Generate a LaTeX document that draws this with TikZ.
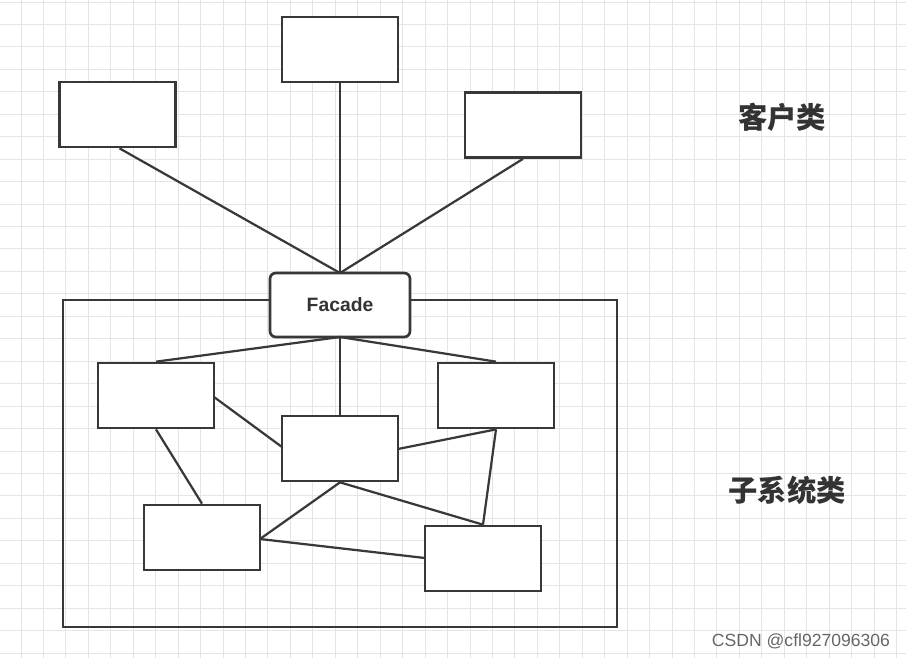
\documentclass[tikz,border=0pt]{standalone}
\usepackage{fontspec}
\setmainfont{Liberation Sans}
\newfontfamily\cjk{Noto Sans CJK SC}
\begin{document}
\begin{tikzpicture}[x=0.03cm,y=-0.03cm,
 bx/.style={draw=black!78,line width=2.3pt,fill=white,minimum width=3.48cm,minimum height=1.95cm,inner sep=0pt},
 ln/.style={draw=black!78,line width=1.9pt},
 lab/.style={font=\cjk\bfseries\fontsize{25}{27}\selectfont,text=black!80}]
\fill[white] (0,0) rectangle (906,658);
\useasboundingbox (0,0) rectangle (906,658);
\foreach \i in {0,...,39} {\draw[black!10,line width=0.8pt] ({21+22.45*\i},0) -- ({21+22.45*\i},658);}
\foreach \i in {0,...,29} {\draw[black!10,line width=0.8pt] (0,{2+22.45*\i}) -- (906,{2+22.45*\i});}
\draw[black!78,line width=2.3pt] (63,300) rectangle (617,627);
\node[bx] (t1) at (117.5,114.5) {};
\node[bx] (t2) at (340,49.5) {};
\node[bx] (t3) at (523,125) {};
\node[bx,rounded corners=5pt,minimum width=4.2cm,minimum height=1.92cm,font=\bfseries\fontsize{16.5}{18}\selectfont,text=black!80] (f) at (340,305) {Facade};
\node[bx] (a) at (156,395.5) {};
\node[bx] (b) at (496,395.5) {};
\node[bx] (c) at (340,448.5) {};
\node[bx] (d) at (202,537.5) {};
\node[bx] (e) at (483,558.5) {};
\coordinate (fb) at (340,337);
\coordinate (ft) at (340,273);
\draw[ln] (t1.south) ++(2,0) -- (ft);
\draw[ln] (t2.south) -- (ft);
\draw[ln] (t3.south) -- (ft);
\draw[ln] (fb) -- (a.north);
\draw[ln] (fb) -- (b.north);
\draw[ln] (fb) -- (c.north);
\draw[ln] (214,397) -- (282,447);
\draw[ln] (a.south) -- (d.north);
\draw[ln] (398,449) -- (b.south);
\draw[ln] (b.south) -- (e.north);
\draw[ln] (c.south) -- (260,539);
\draw[ln] (c.south) -- (e.north);
\draw[ln] (260,539) -- (425,558);
\node[lab] (k1) at (782,117) {客户类};
\node[lab] (k2) at (787,490) {子系统类};
\node[font=\fontsize{15}{17}\selectfont,text=black!60] (w) at (801,641) {CSDN @cfl927096306};
\end{tikzpicture}
\end{document}
